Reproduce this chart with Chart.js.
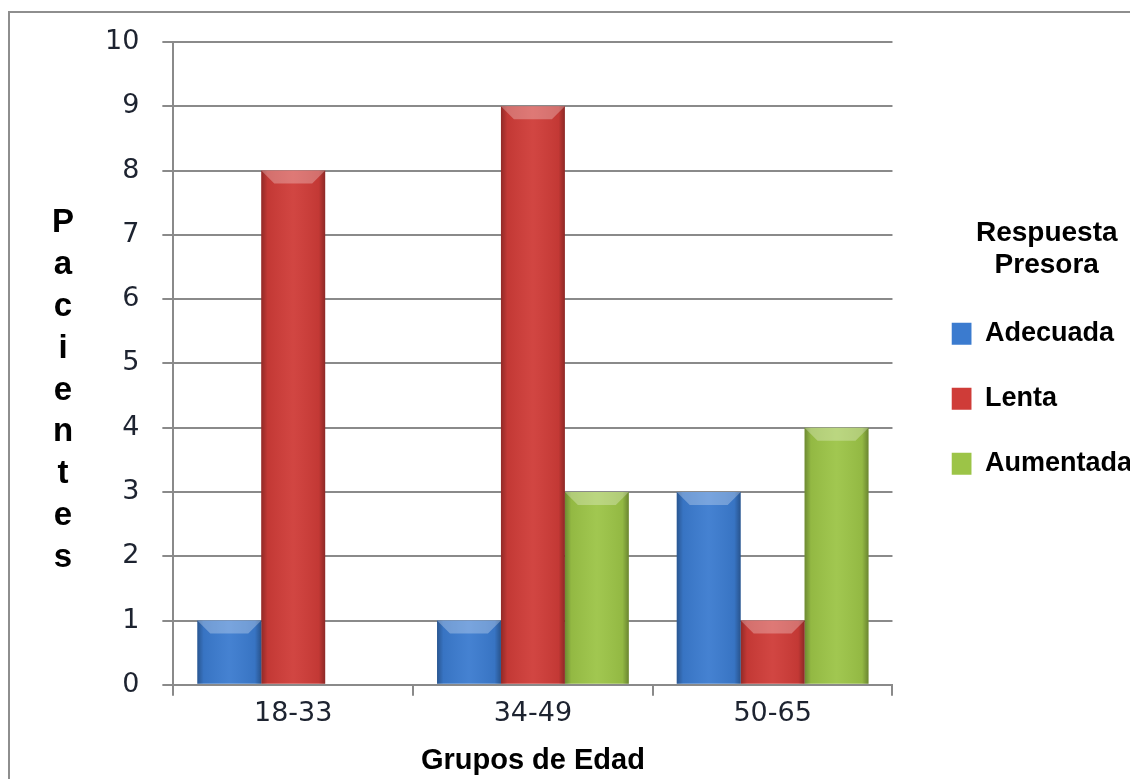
<!DOCTYPE html>
<html lang="es">
<head>
    <meta charset="UTF-8">
    <script src="https://cdn.jsdelivr.net/npm/chart.js@4.4.0/dist/chart.umd.min.js"></script>
    <title>Respuesta Presora por Grupos de Edad</title>
    <style>
        body { margin: 0; background: #fff; overflow: hidden; }
        #marco {
            position: absolute; left: 8px; top: 11px; width: 1200px; height: 900px;
            border: 2px solid #8e8e8e; pointer-events: none;
        }
        #grafico { position: absolute; left: 0; top: 0; }
    </style>
</head>
<body>
    <div id="marco"></div>
    <canvas id="grafico" width="1130" height="779"></canvas>

    <script>
        const grupos = ['18-33', '34-49', '50-65'];
        const adecuada = [1, 1, 3];
        const lenta = [8, 9, 1];
        const aumentada = [0, 3, 4];
        const tituloY = 'Pacientes';
        const tituloX = 'Grupos de Edad';
        const tituloLeyenda = ['Respuesta', 'Presora'];

        const gris = '#8a8a8a';
        const fuenteTicks = { family: '"DejaVu Sans", sans-serif', size: 27 };

        // bevel look on each bar: darker sides and a lighter top edge
        const bisel = {
            id: 'bisel',
            afterDatasetsDraw(chart) {
                const ctx = chart.ctx;
                chart.data.datasets.forEach((ds, i) => {
                    chart.getDatasetMeta(i).data.forEach(bar => {
                        const { x, y, base, width } = bar.getProps(['x', 'y', 'base', 'width'], true);
                        const h = base - y;
                        if (h < 1) return;
                        const l = x - width / 2, r = x + width / 2;
                        ctx.save();
                        const g = ctx.createLinearGradient(l, 0, r, 0);
                        g.addColorStop(0, 'rgba(0,0,0,0.30)');
                        g.addColorStop(0.1, 'rgba(0,0,0,0.06)');
                        g.addColorStop(0.5, 'rgba(255,255,255,0.05)');
                        g.addColorStop(0.9, 'rgba(0,0,0,0.06)');
                        g.addColorStop(1, 'rgba(0,0,0,0.32)');
                        ctx.fillStyle = g;
                        ctx.fillRect(l, y, width, h);
                        const b = Math.min(13, h / 2);
                        ctx.beginPath();
                        ctx.moveTo(l, y);
                        ctx.lineTo(r, y);
                        ctx.lineTo(r - b, y + b);
                        ctx.lineTo(l + b, y + b);
                        ctx.closePath();
                        ctx.fillStyle = 'rgba(255,255,255,0.28)';
                        ctx.fill();
                        ctx.restore();
                    });
                });
            }
        };

        // y axis title written as a vertical column of letters
        const tituloVertical = {
            id: 'tituloVertical',
            afterDraw(chart) {
                const { ctx, chartArea } = chart;
                const letras = tituloY.split('');
                const paso = 41.9;
                const medio = (chartArea.top + chartArea.bottom) / 2;
                ctx.save();
                ctx.font = 'bold 33px "Liberation Sans", Arial, sans-serif';
                ctx.fillStyle = '#000';
                ctx.textAlign = 'center';
                ctx.textBaseline = 'alphabetic';
                letras.forEach((c, i) => ctx.fillText(c, 63, medio - 131.5 + i * paso));
                ctx.restore();
            }
        };

        // legend entries as one-line arrays so their row height follows the font lineHeight
        const etiquetasLeyenda = chart =>
            Chart.defaults.plugins.legend.labels.generateLabels(chart)
                .map(item => Object.assign(item, { text: [item.text] }));

        const ctx = document.getElementById('grafico').getContext('2d');

        new Chart(ctx, {
            type: 'bar',
            data: {
                labels: grupos,
                datasets: [
                    { label: 'Adecuada', data: adecuada, backgroundColor: '#3b7bcf' },
                    { label: 'Lenta', data: lenta, backgroundColor: '#cf3c38' },
                    { label: 'Aumentada', data: aumentada, backgroundColor: '#9cc447' }
                ]
            },
            options: {
                responsive: false,
                animation: false,
                datasets: {
                    bar: { categoryPercentage: 0.8, barPercentage: 1.0, borderWidth: 0 }
                },
                layout: { padding: { left: 82, top: 42, right: -12, bottom: 0 } },
                scales: {
                    x: {
                        grid: { drawOnChartArea: false, color: gris, lineWidth: 2, tickLength: 11 },
                        border: { color: gris, width: 2 },
                        ticks: { font: fuenteTicks, color: '#1d2330', padding: 2 },
                        title: {
                            display: true, text: tituloX, color: '#000',
                            font: { family: '"Liberation Sans", Arial, sans-serif', size: 29, weight: 'bold', lineHeight: 1.2 },
                            padding: { top: 11, bottom: 1 }
                        }
                    },
                    y: {
                        min: 0, max: 10,
                        grid: { color: gris, lineWidth: 2, tickLength: 11 },
                        border: { color: gris, width: 2 },
                        ticks: { stepSize: 1, font: fuenteTicks, color: '#1d2330', padding: 23 }
                    },
                    margen: {
                        position: 'right', display: true,
                        grid: { display: false }, border: { display: false }, ticks: { display: false },
                        afterFit(scale) { scale.width = 59; }
                    }
                },
                plugins: {
                    tooltip: { enabled: false },
                    legend: {
                        position: 'right',
                        align: 'start',
                        maxWidth: 200,
                        title: {
                            display: true, text: tituloLeyenda, color: '#000',
                            font: { family: '"Liberation Sans", Arial, sans-serif', size: 28, weight: 'bold', lineHeight: 1.15 },
                            padding: { top: 177, bottom: 69 }
                        },
                        labels: {
                            boxWidth: 20, boxHeight: 22, padding: 0, color: '#000',
                            font: { family: '"Liberation Sans", Arial, sans-serif', size: 27, weight: 'bold', lineHeight: '65px' },
                            generateLabels: etiquetasLeyenda
                        }
                    }
                }
            },
            plugins: [bisel, tituloVertical]
        });
    </script>
</body>
</html>
